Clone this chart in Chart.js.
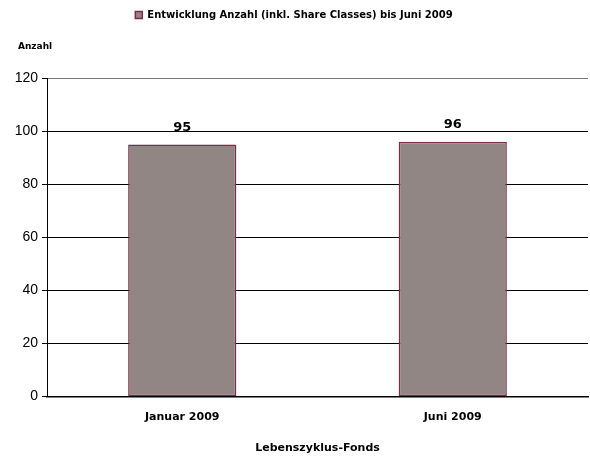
<!DOCTYPE html>
<html><head><meta charset="utf-8">
<script src="https://cdn.jsdelivr.net/npm/chart.js@4/dist/chart.umd.min.js"></script>
<style>html,body{margin:0;padding:0;background:#fff}#wrap{width:590px;height:458px}</style>
</head><body><div id="wrap"><canvas id="c" width="590" height="458"></canvas></div>
<script>
const categories = ["Januar 2009", "Juni 2009"];
const values = [95, 96];
const seriesName = "Entwicklung Anzahl (inkl. Share Classes) bis Juni 2009";
const yTicks = [0, 20, 40, 60, 80, 100, 120];
const yTitle = "Anzahl";
const xTitle = "Lebenszyklus-Fonds";

const legendSpace = {
  id: 'legendSpace',
  beforeInit(chart) {
    const orig = chart.legend.fit;
    chart.legend.fit = function () { orig.bind(chart.legend)(); this.height += 48; };
  }
};

const labelPlugin = {
  id: 'labels',
  afterDatasetsDraw(chart) {
    const ctx = chart.ctx;
    const meta = chart.getDatasetMeta(0);
    ctx.save();
    ctx.font = 'bold 13px "DejaVu Sans"';
    ctx.fillStyle = '#000';
    ctx.textAlign = 'center';
    ctx.textBaseline = 'middle';
    meta.data.forEach((bar, i) => {
      ctx.fillText(String(values[i]), bar.x, bar.y - 17);
    });
    ctx.font = 'bold 9px "DejaVu Sans"';
    ctx.textAlign = 'left';
    ctx.textBaseline = 'middle';
    ctx.fillText(yTitle, 18, 47);
    ctx.restore();
  }
};

new Chart(document.getElementById('c'), {
  type: 'bar',
  data: {
    labels: categories,
    datasets: [{
      label: seriesName,
      data: values,
      backgroundColor: '#928685',
      borderColor: '#7a2c48',
      borderWidth: 1.5,
      borderSkipped: false,
      categoryPercentage: 1,
      barPercentage: 0.4
    }]
  },
  options: {
    responsive: false,
    animation: false,
    layout: { padding: { left: 0, right: 2, top: 2, bottom: 3 } },
    plugins: {
      legend: {
        display: true,
        position: 'top',
        labels: {
          boxWidth: 7, boxHeight: 7, color: '#000',
          font: { family: 'DejaVu Sans', size: 10, weight: 'bold' },
          padding: 8
        }
      },
      title: { display: false },
      tooltip: { enabled: false }
    },
    scales: {
      x: {
        grid: { display: false, drawTicks: false },
        border: { display: true, color: '#000', width: 1.5 },
        ticks: { color: '#000', font: { family: 'DejaVu Sans', size: 11, weight: 'bold' }, padding: 14 },
        title: { display: true, text: xTitle, color: '#000', font: { family: 'DejaVu Sans', size: 11, weight: 'bold' }, padding: { top: 4, bottom: 0 } }
      },
      y: {
        min: 0, max: 120,
        afterFit(scale) { scale.width = 47; },
        afterBuildTicks(scale) { scale.ticks = yTicks.map(v => ({ value: v })); },
        grid: { color: (c) => c.tick && c.tick.value === 120 ? '#777' : '#000', lineWidth: 1, tickLength: 5, drawTicks: true, tickColor: '#000' },
        border: { display: true, color: '#000' },
        ticks: { color: '#000', font: { family: 'Liberation Sans', size: 14 }, padding: 4 }
      }
    }
  },
  plugins: [legendSpace, labelPlugin]
});
</script></body></html>
